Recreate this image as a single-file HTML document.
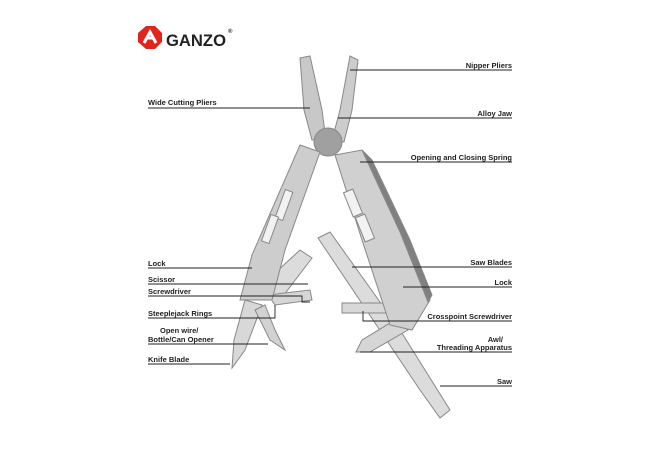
<!DOCTYPE html>
<html><head><meta charset="utf-8"><style>
body{margin:0;background:#fff;width:660px;height:450px;overflow:hidden}
svg text{font-family:"Liberation Sans",sans-serif;font-weight:bold;font-size:7.5px;fill:#222}
</style></head><body>
<svg width="660" height="450" viewBox="0 0 660 450">
<g transform="translate(138,26)">
<polygon points="8,0 17,0 24,7 24,16 17,23 8,23 0,16 0,7" fill="#e0261c"/>
<path d="M6,17 L12,6 L18,17 M9,12 L16,12" stroke="#fff" stroke-width="3" fill="none"/>
</g>
<text x="166" y="46" style="font-size:17px;font-weight:900;fill:#222" textLength="60" lengthAdjust="spacingAndGlyphs">GANZO</text>
<text x="228" y="33" style="font-size:6px">®</text>

<g stroke="#888" stroke-width="1">
<polygon points="318,238 330,232 400,330 450,410 440,418 420,390" fill="#dcdcdc"/>
<polygon points="245,300 262,305 245,350 232,368 234,340" fill="#d8d8d8"/>
<polygon points="395,320 408,330 370,352 356,352 362,340" fill="#d6d6d6"/>
<rect x="342" y="303" width="45" height="10" fill="#d8d8d8"/>
<polygon points="262,285 300,250 312,258 280,300" fill="#dcdcdc"/>
<polygon points="268,295 310,290 312,300 275,305" fill="#d6d6d6"/>
<polygon points="265,305 275,330 285,350 270,340 255,310" fill="#d2d2d2"/>
<polygon points="300,58 310,56 322,110 326,140 312,140 304,110" fill="#c8c8c8"/>
<polygon points="350,56 358,60 352,110 344,142 332,140 340,110" fill="#cccccc"/>
<circle cx="328" cy="142" r="14" fill="#a0a0a0"/>
<polygon points="300,145 320,152 285,250 272,300 240,300 252,255" fill="#cdcdcd"/>
<polygon points="335,155 362,150 400,230 430,300 412,330 390,325 362,240" fill="#d0d0d0"/>
<polygon points="362,150 372,160 410,240 432,295 428,302 400,232" fill="#808080"/>
<g fill="#f2f2f2">
<rect x="280" y="190" width="8" height="30" transform="rotate(20 284 205)"/>
<rect x="266" y="215" width="8" height="28" transform="rotate(20 270 229)"/>
<rect x="348" y="190" width="10" height="26" transform="rotate(-22 353 203)"/>
<rect x="360" y="215" width="10" height="26" transform="rotate(-22 365 228)"/>
</g>
</g>

<g stroke="#222" stroke-width="0.9" fill="none">
<path d="M148,108 H310"/>
<path d="M148,268 H252"/>
<path d="M148,284 H308"/>
<path d="M148,296 H302 V302 H310"/>
<path d="M148,318 H275 V305"/>
<path d="M148,344 H268"/>
<path d="M148,364 H230"/>
<path d="M350,70 H512"/>
<path d="M338,118 H512"/>
<path d="M360,162 H512"/>
<path d="M352,267 H512"/>
<path d="M403,287 H512"/>
<path d="M363,311 V321 H512"/>
<path d="M360,352 H512"/>
<path d="M440,386 H512"/>
</g>

<text x="148" y="105">Wide Cutting Pliers</text>
<text x="148" y="266">Lock</text>
<text x="148" y="282">Scissor</text>
<text x="148" y="294">Screwdriver</text>
<text x="148" y="316">Steeplejack Rings</text>
<text x="160" y="333">Open wire/</text>
<text x="148" y="342">Bottle/Can Opener</text>
<text x="148" y="362">Knife Blade</text>
<text x="512" y="68" text-anchor="end">Nipper Pliers</text>
<text x="512" y="116" text-anchor="end">Alloy Jaw</text>
<text x="512" y="160" text-anchor="end">Opening and Closing Spring</text>
<text x="512" y="265" text-anchor="end">Saw Blades</text>
<text x="512" y="285" text-anchor="end">Lock</text>
<text x="512" y="319" text-anchor="end">Crosspoint Screwdriver</text>
<text x="503" y="342" text-anchor="end">Awl/</text>
<text x="512" y="350" text-anchor="end">Threading Apparatus</text>
<text x="512" y="384" text-anchor="end">Saw</text>
</svg>
</body></html>
